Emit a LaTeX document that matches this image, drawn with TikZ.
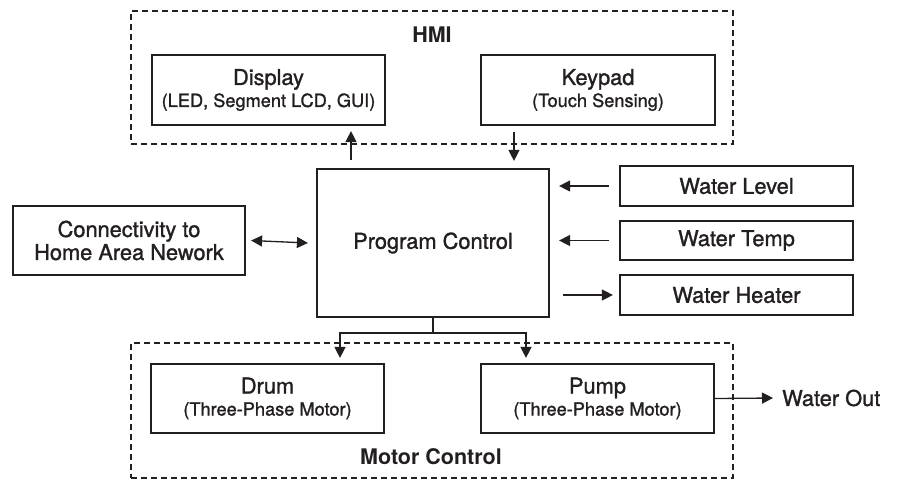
\documentclass[tikz,border=0pt]{standalone}
\usepackage{fontspec}
\setmainfont{TeX Gyre Heros}[UprightFeatures={FakeBold=1.3}]
\usetikzlibrary{arrows.meta,calc}
\definecolor{ink}{HTML}{231F20}
\tikzset{
  box/.style={draw=ink, line width=2.2pt, inner sep=0pt, align=center, text=ink,
    font=\fontsize{21.8}{23}\selectfont},
  grp/.style={draw=ink, line width=1.1pt, dash pattern=on 6pt off 4pt},
  arr/.style={draw=ink, line width=1.3pt, -{Triangle[length=11pt,width=11pt]}},
  darr/.style={draw=ink, line width=1.3pt, {Triangle[length=11pt,width=11pt]}-{Triangle[length=11pt,width=11pt]}},
  ln/.style={draw=ink, line width=1.3pt},
  lbl/.style={text=ink, inner sep=0pt, font=\fontsize{21.8}{23}\selectfont},
  blbl/.style={text=ink, inner sep=0pt, font=\fontsize{21.5}{23}\selectfont\bfseries},
}
\newcommand{\subt}[1]{{\fontsize{18.2}{22}\selectfont #1}}
\begin{document}
\begin{tikzpicture}[x=1pt,y=-1pt]
\useasboundingbox (0,0) rectangle (897,480);
% groups
\node[grp, minimum width=602pt, minimum height=133pt, inner sep=0pt] (hmi) at (432,77.5) {};
\node[grp, minimum width=602pt, minimum height=135pt, inner sep=0pt] (mot) at (432,410.5) {};
\node[blbl] (hmil) at (432,35) {HMI};
\node[blbl] (motl) at (431,457) {Motor Control};
% boxes
\node[box, minimum width=233pt, minimum height=70pt] (disp) at (268.5,90) {Display\\[-1pt]\subt{(LED, Segment LCD, GUI)}};
\node[box, minimum width=234pt, minimum height=70pt] (key) at (598,90) {Keypad\\[-1pt]\subt{(Touch Sensing)}};
\node[box, minimum width=232pt, minimum height=148pt] (pc) at (433,243) {Program Control};
\node[box, minimum width=232pt, minimum height=69pt] (conn) at (129,240.5) {Connectivity to\\Home Area Nework};
\node[box, minimum width=233pt, minimum height=40pt] (wl) at (736.5,186) {Water Level};
\node[box, minimum width=233pt, minimum height=39pt] (wt) at (736.5,240.5) {Water Temp};
\node[box, minimum width=233pt, minimum height=40pt] (wh) at (736.5,295) {Water Heater};
\node[box, minimum width=233pt, minimum height=69pt] (drum) at (267.5,398.5) {Drum\\[-1pt]\subt{(Three-Phase Motor)}};
\node[box, minimum width=233pt, minimum height=69pt] (pump) at (597.5,398.5) {Pump\\[-1pt]\subt{(Three-Phase Motor)}};
\node[lbl, anchor=west] (wout) at (782,398) {Water Out};
% connectors
\draw[arr] ([xshift=-82pt,yshift=8pt]pc.north) -- ([xshift=82.5pt,yshift=-5pt]disp.south);
\draw[arr] ([xshift=-84pt,yshift=-6pt]key.south) -- ([xshift=81pt,yshift=7pt]pc.north);
\draw[darr] ([xshift=5pt]conn.east) -- ([xshift=-8pt]pc.west);
\draw[arr] ([xshift=-10pt]wl.west) -- ([xshift=9pt]wl.west -| pc.east);
\draw[arr] ([xshift=-10pt]wt.west) -- ([xshift=9pt]wt.west -| pc.east);
\draw[arr] ([xshift=13pt]wh.west -| pc.east) -- ([xshift=-6pt]wh.west);
\coordinate (split) at ([yshift=-15pt]pc.south);
\draw[ln] (pc.south) -- (split);
\draw[arr] (split) -| ([xshift=72.5pt,yshift=5pt]drum.north);
\draw[arr] (split) -| ([xshift=-71.5pt,yshift=5pt]pump.north);
\draw[arr] (pump.east) -- ([xshift=-9pt]wout.west);
\end{tikzpicture}
\end{document}
